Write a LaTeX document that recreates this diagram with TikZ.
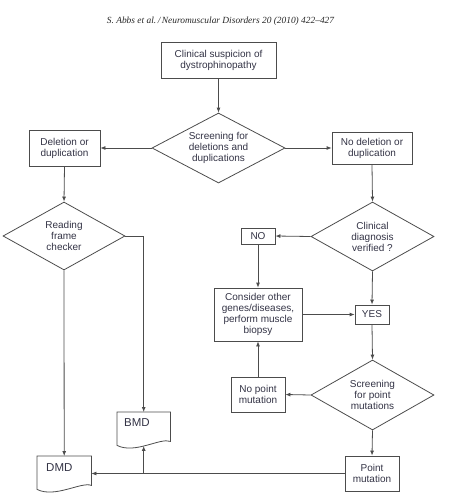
\documentclass[tikz,border=0pt]{standalone}
\usepackage{fontspec}
\setmainfont{Liberation Sans}
\newfontfamily\hdrfont{Liberation Serif}
\usetikzlibrary{shapes.geometric,arrows.meta}
\definecolor{txt}{rgb}{0.2,0.2,0.27}
\definecolor{ln}{rgb}{0.3,0.3,0.3}
\newcommand\docwave[1]{%
  \draw[draw=ln, line width=0.8pt] (#1.north west) -- (#1.north east) -- ([yshift=6pt]#1.south east)
    .. controls ([xshift=-10pt,yshift=10pt]#1.south east) and ([xshift=18pt,yshift=-7pt]#1.south west) ..
    ([yshift=2pt]#1.south west) -- cycle;}
\begin{document}
\begin{tikzpicture}[x=1pt,y=-1pt,
  every node/.style={font=\fontsize{10}{11}\selectfont, text=txt},
  box/.style={draw=ln, line width=0.8pt, rectangle, inner sep=0pt, align=center},
  dia/.style={draw=ln, line width=0.8pt, diamond, inner sep=0pt, align=center, aspect=1.8},
  docnode/.style={inner ysep=0pt, align=left, font=\fontsize{11.5}{13}\selectfont, anchor=north west},
  conn/.style={draw=ln, line width=0.8pt, -{Latex[length=5pt,width=4pt]}},
]
\useasboundingbox (0,0) rectangle (456,501);
\node[font=\hdrfont\itshape\fontsize{9.4}{10}\selectfont, text=black!85] (hdr) at (220.5,21) {S. Abbs et al.\,/\,Neuromuscular Disorders 20 (2010) 422–427};
\node[box, minimum width=115pt, minimum height=36pt] (clin) at (218.5,60) {Clinical suspicion of\\dystrophinopathy};
\node[dia, minimum width=133pt, minimum height=70pt] (scr) at (218.5,148) {Screening for\\deletions and\\duplications};
\node[box, minimum width=71pt, minimum height=36pt] (del) at (64.5,148) {Deletion or\\duplication};
\node[box, minimum width=80pt, minimum height=32pt] (nodel) at (372,148) {No deletion or\\duplication};
\node[dia, minimum width=122pt, minimum height=68pt] (rf) at (64,236) {Reading\\frame\\checker};
\node[dia, minimum width=123pt, minimum height=69pt] (cd) at (372.5,236.5) {Clinical\\diagnosis\\verified ?};
\node[box, minimum width=34pt, minimum height=16pt] (no) at (258,236) {NO};
\node[box, minimum width=88pt, minimum height=53pt] (cons) at (258,314.5) {Consider other\\genes/diseases,\\perform muscle\\biopsy};
\node[box, minimum width=34pt, minimum height=19pt] (yes) at (372,314.5) {YES};
\node[dia, minimum width=123pt, minimum height=70pt] (sp) at (372.5,395) {Screening\\for point\\mutations};
\node[box, minimum width=54pt, minimum height=35pt] (nopt) at (258,394.5) {No point\\mutation};
\node[box, minimum width=54pt, minimum height=35pt] (pt) at (372,473.5) {Point\\mutation};
\node[docnode, inner xsep=7pt, text width=39pt, text height=14.5pt, text depth=20.5pt] (bmd) at (117,412) {BMD};
\node[docnode, inner xsep=9pt, text width=36pt, text height=15pt, text depth=20pt] (dmd) at (37,456) {DMD};
\docwave{bmd}
\docwave{dmd}
\draw[conn] (clin.south) -- (scr.north);
\draw[conn] (scr.west) -- (del.east);
\draw[conn] (scr.east) -- (nodel.west);
\draw[conn] (del.south) -- (rf.north);
\draw[conn] (rf.east) -| (bmd.north);
\draw[conn] (rf.south) -- (dmd.north);
\draw[conn] (nodel.south) -- (cd.north);
\draw[conn] (cd.west) -- (no.east);
\draw[conn] (no.south) -- (cons.north);
\draw[conn] (cd.south) -- (yes.north);
\draw[conn] (cons.east) -- (yes.west);
\draw[conn] (yes.south) -- (sp.north);
\draw[conn] (sp.west) -- (nopt.east);
\draw[conn] (nopt.north) -- (cons.south);
\draw[conn] (sp.south) -- (pt.north);
\draw[conn] (pt.west) -- (pt.west -| dmd.east);
\coordinate (j) at (pt.west -| bmd.south);
\draw[conn] (j) -- ([yshift=1.5pt]bmd.south);
\end{tikzpicture}
\end{document}
